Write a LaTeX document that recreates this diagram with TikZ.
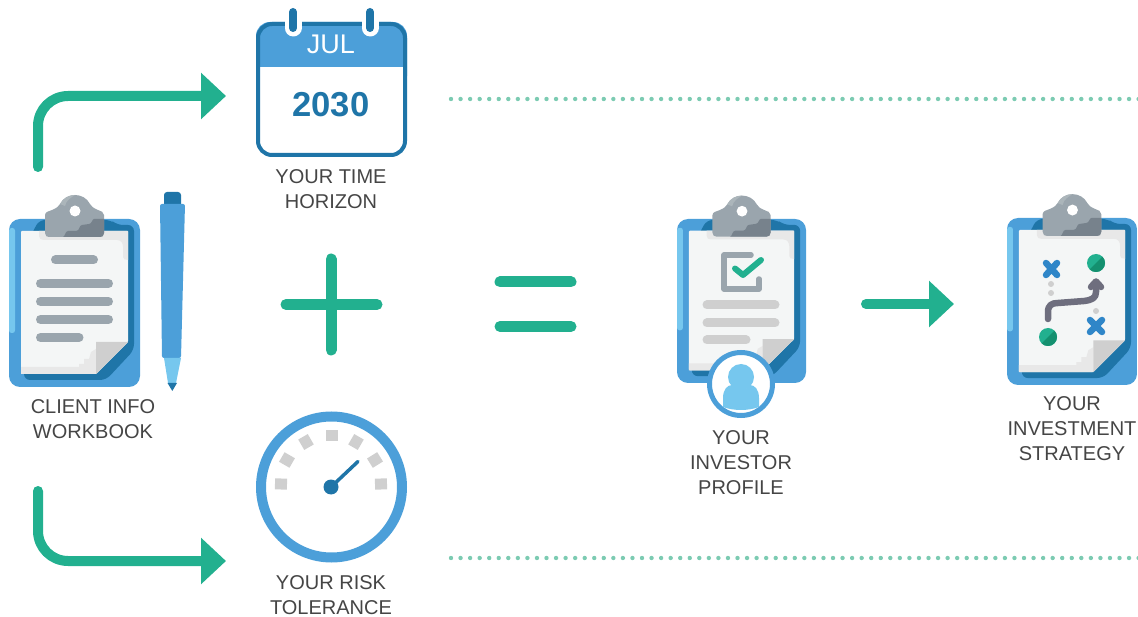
\documentclass[tikz,border=0pt]{standalone}
\usepackage{fontspec}
\setmainfont{Liberation Sans}
\usetikzlibrary{arrows.meta,calc}
\definecolor{teal1}{HTML}{22B08F}
\definecolor{teal2}{HTML}{14906F}
\definecolor{dotc}{HTML}{7CCBB2}
\definecolor{blue1}{HTML}{4C9FD9}
\definecolor{blue2}{HTML}{1F75A8}
\definecolor{blue3}{HTML}{76C7EE}
\definecolor{xblue}{HTML}{2F86C8}
\definecolor{gray1}{HTML}{9AA5AD}
\definecolor{gray2}{HTML}{77828C}
\definecolor{gray3}{HTML}{CFCFCF}
\definecolor{gray4}{HTML}{E8E8E8}
\definecolor{gray5}{HTML}{ABB5BA}
\definecolor{paper}{HTML}{F4F6F6}
\definecolor{txt}{HTML}{454545}
\definecolor{arrowg}{HTML}{6E6E7E}
\tikzset{
  flow/.style={draw=teal1,line width=10pt,line cap=round,-{Triangle[length=25pt,width=45pt]}},
  sign/.style={draw=teal1,line width=11pt,line cap=round},
  dotline/.style={draw=dotc,line width=4.4pt,line cap=round,dash pattern=on 0pt off 9.55pt},
  label/.style={text=txt,font=\fontsize{20pt}{25pt}\selectfont,align=center,inner sep=0pt},
  bar/.style={line width=9pt,line cap=round},
  cross/.style={draw=xblue,line width=6.5pt,line cap=round},
}
\newcommand{\clipboardicon}[4]{%
  \begin{scope}[shift={(#1,#2)},xscale=#3,yscale=#4]
    \fill[blue1,rounded corners=11pt] (0,0) rectangle (131,168);
    \fill[blue3,rounded corners=2.5pt] (0,9) rectangle (6,114);
    \fill[blue2,rounded corners=6pt] (30,1) -- (102,1) -- (108,6) -- (125,6) -- (125,131) -- (97,161) -- (15,161) -- (15,30) -- cycle;
    \fill[paper,rounded corners=1pt] (12,12) -- (119,12) -- (119,123) -- (87,155) -- (12,155) -- cycle;
    \fill[gray4] (30,12) -- (30,17) .. controls (30,20) and (32,21) .. (35,21) -- (108,21) .. controls (112,21) and (114,24) .. (114,28) -- (114,38) .. controls (114,40) and (116,41) .. (119,41) -- (119,12) -- cycle;
    \fill[gray4] (12,148) -- (70,148) -- (70,145) -- (75,145) -- (75,140) -- (80,140) -- (82,133) -- (87,130) -- (87,155) -- (12,155) -- cycle;
    \fill[gray3] (87,155) -- (87,123) -- (119,123) -- cycle;
    \fill[gray1] (36,14) -- (36,-4) .. controls (36,-7) and (40,-8) .. (43,-9) .. controls (48,-11) and (50,-13) .. (51,-15) .. controls (54,-21) and (60,-24) .. (66,-24) .. controls (72,-24) and (78,-21) .. (81,-15) .. controls (82,-13) and (84,-11) .. (89,-9) .. controls (92,-8) and (95,-7) .. (95,-4) -- (95,14) .. controls (95,17) and (93,18) .. (91,18) -- (40,18) .. controls (38,18) and (36,17) .. (36,14) -- cycle;
    \fill[gray5] (51,-15) .. controls (54,-21) and (60,-24) .. (66,-24) .. controls (63,-22) and (57,-19) .. (56,-13) -- cycle;
    \fill[gray2] (95,0) -- (85,0) .. controls (83,0) and (83,5) .. (80,5) -- (73,6) .. controls (70,6) and (71,12) .. (67,12) -- (59,12) .. controls (56,12) and (56,18) .. (54,18) -- (91,18) .. controls (93,18) and (95,17) .. (95,14) -- cycle;
    \fill[white] (66,-8) circle[radius=5.5];
  \end{scope}}
\newcommand{\greenball}[2]{%
  \fill[teal1] (#1,#2) circle[radius=9];
  \fill[teal2] ($(#1,#2)+(-45:9)$) arc[start angle=-45,end angle=135,radius=9] -- cycle;}
\begin{document}
\begin{tikzpicture}[x=1pt,y=-1pt]
\useasboundingbox (0,0) rectangle (1138,617);

% free ends of connectors
\coordinate (topstart) at (38,167);
\coordinate (topend) at (226,96);
\coordinate (botstart) at (38,491);
\coordinate (botend) at (226,561);
\coordinate (midstart) at (866,304);
\coordinate (midend) at (954,304);
\coordinate (dotaL) at (451,99);
\coordinate (dotaR) at (1142,99);
\coordinate (dotbL) at (451,558);
\coordinate (dotbR) at (1142,558);

\draw[flow,rounded corners=30pt] (topstart) |- (topend);
\draw[flow,rounded corners=30pt] (botstart) |- (botend);
\draw[flow] (midstart) -- (midend);
\draw[dotline] (dotaL) -- (dotaR);
\draw[dotline] (dotbL) -- (dotbR);

% plus and equals
\draw[sign] (286,304.5) -- (377,304.5);
\draw[sign] (331,259) -- (331,350);
\draw[sign] (500,282) -- (571,282);
\draw[sign] (500,326.5) -- (571,326.5);

% calendar
\fill[blue1,rounded corners=14pt] (256,22) rectangle (407,90);
\fill[white,rounded corners=12pt] (258,60) rectangle (405,155);
\fill[blue1] (258,40) rectangle (405,67);
\draw[blue2,line width=4pt,rounded corners=14pt] (258,24) rectangle (405,155);
\draw[white,line width=17pt,line cap=round] (293,16) -- (293,28);
\draw[white,line width=17pt,line cap=round] (370,16) -- (370,28);
\fill[white] (280,0) rectangle (306,14);
\fill[white] (357,0) rectangle (383,14);
\draw[blue2,line width=8pt,line cap=round] (293,12) -- (293,28);
\draw[blue2,line width=8pt,line cap=round] (370,12) -- (370,28);
\node[inner sep=0pt,text=white,font=\fontsize{27pt}{27pt}\selectfont] (jul) at (331,44.5) {JUL};
\node[inner sep=0pt,text=blue2,font=\fontsize{34.6pt}{35pt}\selectfont\bfseries] (year) at (331,104.5) {2030};

% gauge
\draw[blue1,line width=10pt] (331.5,487) circle[radius=70.5];
\foreach \a/\cx/\cy in {-2/281/484, -30/287/460, -60/306/442, 0/331.5/435.5, 60/356/442, 32/375/460, 2/381/484}{
  \fill[gray3,rotate around={\a:(\cx,\cy)}] (\cx-6,\cy-5.5) rectangle (\cx+6,\cy+5.5);
}
\fill[blue2] (331,487) circle[radius=7.5];
\draw[blue2,line width=3.5pt,line cap=round] (331,487) -- (358,461.5);

% pen
\fill[blue2,rounded corners=3pt] (164,192) rectangle (181,208);
\fill[blue1,rounded corners=2pt] (160,204) -- (185,204) -- (181,358) -- (162,358) -- cycle;
\fill[blue3] (164,358) -- (181,358) -- (176,383) -- (168,383) -- cycle;
\fill[blue2] (167.5,383) -- (177,383) -- (172.3,391) -- cycle;

% clipboard 1
\clipboardicon{9}{219}{1}{1}
\foreach \xa/\xb/\yy in {55.5/93.5/260, 40.5/108.5/283.5, 40.5/108.5/301.5, 40.5/108.5/319.5, 40.5/79/337.5}{
  \draw[gray1,bar] (\xa,\yy) -- (\xb,\yy);
}

% clipboard 2
\clipboardicon{677}{219}{0.985}{0.976}
\draw[gray1,line width=5.5pt,line cap=round,line join=round] (751,255) -- (724,255) -- (724,289) -- (759,289) -- (759,279);
\draw[teal1,line width=6pt,line cap=round,line join=round] (735,268.5) -- (743,275) -- (761,260);
\foreach \xb/\yy in {775/305, 775/323, 746/340}{
  \draw[gray3,bar] (707,\yy) -- (\xb,\yy);
}
\fill[white] (741,384) circle[radius=33];
\draw[blue1,line width=5pt] (741,384) circle[radius=31.5];
\fill[blue3] (741,377) circle[radius=13];
\fill[blue3] (723,407) -- (723,398) .. controls (723,390) and (727,385) .. (732,385) .. controls (736,391) and (746,391) .. (750,385) .. controls (755,385) and (759,390) .. (759,398) -- (759,407) .. controls (748,411) and (734,411) .. (723,407) -- cycle;

% clipboard 3
\clipboardicon{1007}{218}{0.992}{0.994}
\draw[cross] (1046,263) -- (1057,275);
\draw[cross] (1057,263) -- (1046,275);
\draw[cross] (1090,320) -- (1102,332);
\draw[cross] (1102,320) -- (1090,332);
\fill[gray3] (1051,284) circle[radius=3];
\fill[gray3] (1051,293) circle[radius=3];
\fill[gray3] (1096,311) circle[radius=3];
\greenball{1096}{263}
\greenball{1048}{337}
\draw[arrowg,line width=6.5pt,line cap=round,line join=round] (1048,319) -- (1048,312) .. controls (1048,305) and (1052,303) .. (1058,303) -- (1084,301) .. controls (1092,300) and (1096,298) .. (1096,292) -- (1096,284);
\draw[arrowg,line width=6.5pt,line cap=round,line join=round] (1091,287) -- (1096,281.5) -- (1101,287);

% labels
\node[label] (workbook) at (93,419.2) {CLIENT INFO\\WORKBOOK};
\node[label] (horizon) at (331,189) {YOUR TIME\\HORIZON};
\node[label] (risk) at (331,595) {YOUR RISK\\TOLERANCE};
\node[label] (profile) at (741,462.7) {YOUR\\INVESTOR\\PROFILE};
\node[label] (strategy) at (1072,428.7) {YOUR\\INVESTMENT\\STRATEGY};
\end{tikzpicture}
\end{document}
